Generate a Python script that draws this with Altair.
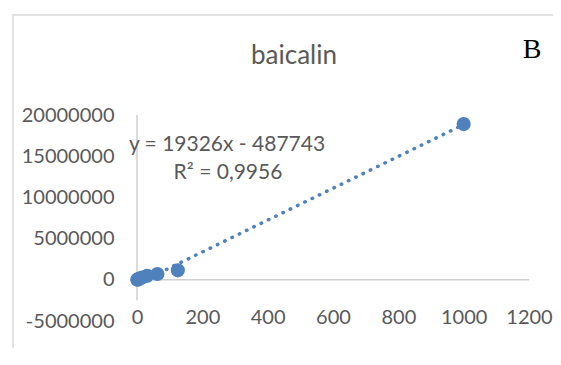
import altair as alt
import pandas as pd

# ---- data ----
conc = [0.98, 1.95, 3.9, 7.8, 15.6, 31.25, 62.5, 125, 1000]
area = [15000, 35000, 70000, 140000, 280000, 480000, 700000, 1150000, 18900000]

slope = 19326
intercept = -487743
eq_text = "y = 19326x - 487743"
r2_text = "R² = 0,9956"
title_text = "baicalin"
panel_label = "B"

x_ticks = [0, 200, 400, 600, 800, 1000, 1200]
y_ticks = [-5000000, 0, 5000000, 10000000, 15000000, 20000000]
x_domain = [0, 1200]
y_domain = [-5000000, 20000000]
y_axis_low = -2500000

W, H = 392, 206
GRAY = "#595959"
BLUE = "#4F81BD"
FONT = "Lato"

pts = pd.DataFrame({"x": conc, "y": area})

xs = alt.Scale(domain=x_domain, nice=False, zero=False)
ys = alt.Scale(domain=y_domain, nice=False, zero=False)

x_axis = alt.Axis(values=x_ticks, labelExpr="'' + datum.value", domain=False, ticks=False,
                  tickSize=0, grid=False, labelPadding=-4, labelBaseline="middle",
                  labelFontSize=20, labelColor=GRAY, labelFont=FONT, title=None,
                  labelFlush=False, labelOverlap=False, zindex=1)
y_axis = alt.Axis(values=y_ticks, labelExpr="'' + datum.value", domain=False, ticks=False,
                  tickSize=0, grid=False, labelPadding=23, labelBaseline="middle",
                  labelFontSize=20, labelColor=GRAY, labelFont=FONT, title=None,
                  labelOverlap=False, zindex=1)

one = pd.DataFrame({"label": [panel_label]})

border = alt.Chart(one).mark_rect(fill="white", fillOpacity=0, stroke="#D9D9D9", strokeWidth=1.5).encode(
    x=alt.value(-124), y=alt.value(-100), x2=alt.value(600), y2=alt.value(400))

xline = alt.Chart(pd.DataFrame({"x": [x_domain[0]], "x2": [x_domain[1]], "y": [0]})).mark_rule(
    color="#D0D0D0", strokeWidth=1.5).encode(
    x=alt.X("x:Q", scale=xs, axis=x_axis), x2="x2:Q",
    y=alt.Y("y:Q", scale=ys, axis=y_axis))

yline = alt.Chart(pd.DataFrame({"x": [0], "y": [y_axis_low], "y2": [y_domain[1]]})).mark_rule(
    color="#D0D0D0", strokeWidth=1.5).encode(
    x=alt.X("x:Q", scale=xs), y=alt.Y("y:Q", scale=ys), y2="y2:Q")

trend = alt.Chart(pd.DataFrame({"x": [min(conc), max(conc)]})).transform_calculate(
    y=f"{slope} * datum.x + ({intercept})").mark_line(
    color=BLUE, strokeWidth=3.5, strokeDash=[0.5, 7.6], strokeCap="round").encode(
    x=alt.X("x:Q", scale=xs), y=alt.Y("y:Q", scale=ys))

points = alt.Chart(pts).mark_circle(size=200, color=BLUE, opacity=1).encode(
    x=alt.X("x:Q", scale=xs), y=alt.Y("y:Q", scale=ys))

eq = alt.Chart(pd.DataFrame({"t": [eq_text]})).mark_text(
    font=FONT, fontSize=21, color=GRAY, align="center", baseline="middle").encode(
    text="t:N", x=alt.value(90), y=alt.value(30))

r2 = alt.Chart(pd.DataFrame({"t": [r2_text]})).mark_text(
    font=FONT, fontSize=21, color=GRAY, align="center", baseline="middle").encode(
    text="t:N", x=alt.value(91), y=alt.value(58))

blabel = alt.Chart(one).mark_text(
    font="Liberation Serif", fontSize=28, color="black", align="center", baseline="middle").encode(
    text="label:N", x=alt.value(395), y=alt.value(-65))

chart = alt.layer(border, xline, yline, trend, points, eq, r2, blabel).properties(
    width=W, height=H,
    title=alt.Title(title_text, anchor="middle", frame="group", dx=-39, offset=-55,
                    fontSize=26, font=FONT, fontWeight="normal", color=GRAY),
    autosize=alt.AutoSizeParams(type="none"),
    padding={"left": 129, "top": 107, "right": 24, "bottom": 27},
    background="white",
).configure_view(stroke=None)

chart.save("out.html", embed_options={"renderer": "svg", "actions": False})
